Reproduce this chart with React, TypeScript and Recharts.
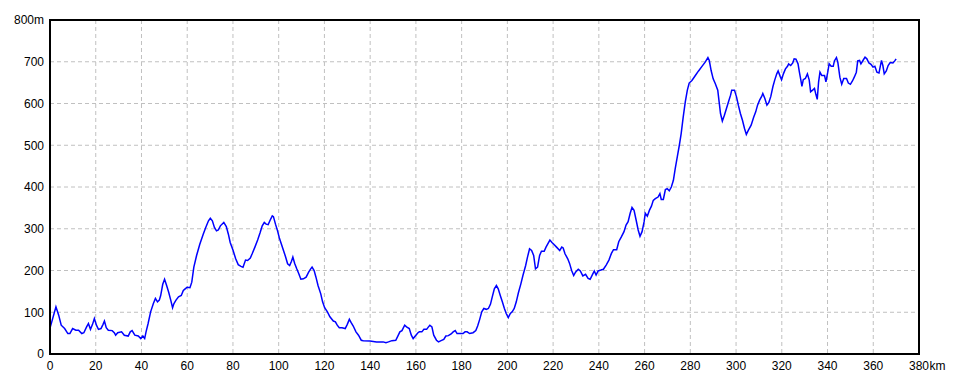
import React from "react";
import { LineChart, Line, XAxis, YAxis, CartesianGrid, ReferenceArea } from "recharts";

const distanceKm: number[] = [
  0, 2.6, 3.8, 4.9, 6.4, 7.8, 8.7, 9.9, 11.3, 12.5, 13.9, 14.8, 16, 16.8, 17.7, 18.6, 19.4, 20.3, 21.2, 22.3,
  23.2, 23.8, 24.6, 25.5, 27.2, 28.1, 28.7, 29.6, 31.3, 32.5, 34.2, 35.1, 35.9, 37.1, 38.6, 39.7, 40.6, 41.4, 42, 42.9,
  44, 45.2, 46.1, 47, 47.8, 48.4, 49.3, 50.1, 51, 51.9, 52.8, 53.6, 54.2, 55.1, 56.2, 57.4, 58.3, 59.1, 60, 61.2,
  62, 62.9, 64.1, 65.5, 67, 68.1, 69.3, 70.1, 71, 71.9, 72.8, 73.6, 74.5, 76, 77.1, 78, 78.8, 80, 81.2, 82.3,
  83.5, 84.4, 85.5, 86.4, 87.6, 88.4, 89.6, 90.8, 91.9, 92.8, 93.7, 94.5, 95.4, 96.3, 97.2, 97.7, 98.6, 99.5, 100.3, 101.2,
  102.1, 103, 103.9, 104.8, 105.6, 106.2, 107, 107.9, 108.8, 109.7, 110.8, 112, 113.1, 114, 114.6, 115.5, 116.3, 117.2, 118.4, 119.2,
  120.1, 121.3, 122.4, 123.9, 124.8, 125.6, 126.5, 127.7, 129.1, 130, 130.9, 131.7, 132.6, 133.8, 134.9, 136.1, 137, 139.9, 142.8, 144,
  145.7, 146.9, 148, 149.5, 151.2, 152.1, 153, 153.9, 155.1, 155.9, 157.1, 158, 158.8, 160, 160.9, 161.5, 162.6, 163.5, 164.7, 165.5,
  166.1, 167, 167.8, 169, 169.9, 171, 172.2, 173.1, 174.2, 175.4, 176.3, 177.2, 178, 180.6, 181.5, 182.4, 183.5, 185, 186.2, 187,
  187.9, 188.8, 189.7, 190.8, 191.7, 192.6, 193.4, 194.3, 195.2, 196, 196.9, 197.8, 198.7, 199.5, 200.4, 201.3, 202.1, 203, 203.9, 204.8,
  205.9, 206.8, 208, 208.8, 209.7, 210.6, 211.5, 212.3, 213.2, 214.1, 214.9, 216.1, 216.9, 217.8, 218.6, 219.5, 220.3, 221.5, 222.9, 223.8,
  224.4, 225.2, 226.4, 227.2, 228.1, 229, 229.8, 231, 231.9, 233, 234.2, 235.3, 236.2, 237.1, 238, 238.8, 239.7, 240.9, 242, 243.2,
  244.4, 245.5, 246.4, 247.8, 248.7, 249.9, 251, 251.9, 252.8, 253.7, 254.5, 255.4, 256.3, 257.2, 258, 258.9, 259.8, 260.3, 261.2, 262.1,
  263, 263.8, 264.7, 265.9, 266.7, 267.3, 268.2, 269.1, 269.9, 270.8, 271.7, 272.6, 273.4, 274.3, 275.2, 276, 276.9, 277.8, 278.7, 279.5,
  280.7, 282.2, 283.6, 285.1, 286.5, 287.7, 288.3, 289.1, 290, 290.9, 292, 292.6, 293.2, 294, 294.9, 295.8, 296.7, 297.6, 298.1, 299.3,
  300.2, 301, 301.9, 302.8, 303.7, 304.5, 305.4, 306.6, 307.7, 308.6, 309.4, 310.3, 311.2, 311.7, 312.6, 313.5, 314.3, 315.2, 316.1, 316.9,
  317.8, 318.4, 319.3, 319.9, 320.7, 321.6, 322.5, 323, 323.9, 324.8, 325.4, 326.2, 327.1, 327.7, 328.3, 328.8, 329.4, 330.3, 331.2, 332,
  332.6, 333.5, 334.3, 334.9, 335.5, 336.1, 336.7, 337.5, 338.7, 339.3, 340.1, 340.7, 341.6, 342.5, 343, 343.9, 344.5, 345.4, 346.2, 347.1,
  348.3, 349.1, 350, 350.9, 351.7, 352.6, 353.2, 354, 354.6, 355.5, 356.4, 357.2, 358.1, 359, 359.9, 360.7, 361.6, 362.5, 363, 363.6,
  364.2, 364.8, 365.7, 366.5, 367.4, 368.6, 369.4, 370,
];

const elevationM: number[] = [
  62, 113, 93, 69, 61, 49, 49, 61, 57, 57, 49, 51, 65, 73, 59, 71, 85, 69, 59, 61,
  71, 79, 63, 57, 56, 51, 45, 51, 53, 45, 43, 53, 56, 45, 43, 37, 43, 37, 53, 73,
  101, 121, 133, 125, 129, 140, 167, 179, 164, 148, 129, 111, 121, 129, 137, 140, 152, 156, 160, 159,
  172, 208, 236, 263, 287, 303, 319, 325, 319, 303, 295, 297, 307, 315, 305, 287, 267, 249, 228, 214,
  210, 208, 225, 224, 230, 240, 256, 273, 291, 307, 315, 311, 310, 321, 331, 329, 311, 295, 278, 263,
  248, 233, 216, 212, 222, 232, 217, 204, 192, 179, 180, 184, 196, 204, 208, 200, 184, 164, 144, 125,
  111, 101, 89, 79, 77, 69, 63, 63, 61, 71, 83, 75, 67, 53, 45, 33, 32, 31, 29, 29,
  29, 27, 29, 32, 33, 43, 53, 56, 69, 65, 61, 45, 37, 45, 51, 53, 53, 59, 59, 65,
  69, 65, 45, 33, 29, 32, 35, 43, 44, 48, 53, 56, 49, 49, 53, 53, 49, 51, 56, 67,
  83, 101, 109, 107, 109, 119, 137, 156, 164, 156, 140, 125, 109, 97, 87, 97, 101, 109, 125, 146,
  168, 188, 212, 232, 252, 248, 236, 204, 208, 236, 246, 246, 256, 265, 273, 267, 263, 256, 248, 256,
  254, 240, 228, 217, 200, 188, 196, 203, 199, 187, 191, 181, 179, 189, 199, 189, 199, 201, 203, 213,
  225, 241, 250, 250, 269, 281, 293, 309, 317, 337, 351, 344, 321, 297, 282, 293, 317, 337, 330, 344,
  354, 368, 372, 376, 384, 370, 370, 394, 396, 391, 400, 416, 444, 472, 500, 528, 568, 604, 632, 649,
  655, 667, 678, 689, 699, 710, 703, 679, 659, 648, 632, 604, 576, 558, 572, 588, 604, 620, 632, 632,
  616, 596, 576, 560, 540, 526, 536, 548, 567, 580, 596, 608, 617, 624, 612, 596, 602, 617, 640, 656,
  671, 678, 665, 657, 671, 683, 689, 695, 691, 697, 707, 706, 695, 675, 657, 641, 657, 660, 671, 656,
  628, 632, 636, 622, 610, 652, 675, 667, 667, 652, 675, 695, 689, 689, 702, 710, 699, 663, 646, 660,
  660, 649, 646, 654, 663, 675, 702, 703, 695, 703, 711, 707, 697, 694, 687, 689, 675, 673, 687, 703,
  691, 671, 678, 691, 698, 697, 702, 707,
];

const xTicks: number[] = [0, 20, 40, 60, 80, 100, 120, 140, 160, 180, 200, 220, 240, 260, 280, 300, 320, 340, 360, 380];
const yTicks: number[] = [0, 100, 200, 300, 400, 500, 600, 700, 800];
const xUnit = "km";
const yUnit = "m";

const data = distanceKm.map((d, i) => ({ km: d, elev: elevationM[i] }));

const FONT = "'Liberation Sans', Arial, sans-serif";
const FONT_SIZE = 12;

const XTick = (props: any) => {
  const { x, y, payload } = props;
  const v = payload.value;
  const isLast = v === xTicks[xTicks.length - 1];
  return (
    <g>
      <text x={x} y={y} dy="0.71em" textAnchor="middle" fontFamily={FONT} fontSize={FONT_SIZE} fill="#000">
        {String(v)}
      </text>
      {isLast && (
        <text x={x + 10.5} y={y} dy="0.71em" textAnchor="start" fontFamily={FONT} fontSize={FONT_SIZE} fill="#000">
          {xUnit}
        </text>
      )}
    </g>
  );
};

export default function App() {
  return (
    <div style={{ position: "absolute", left: 0, top: 0, width: 960, height: 384, background: "#fff" }}>
      <LineChart
        width={960}
        height={384}
        data={data}
        margin={{ top: 20, right: 41, bottom: 0, left: 0 }}
      >
        <CartesianGrid stroke="#c0c0c0" strokeDasharray="4 3" horizontalValues={yTicks} verticalValues={xTicks} />
        <XAxis
          dataKey="km"
          type="number"
          domain={[0, 380]}
          ticks={xTicks}
          interval={0}
          height={30}
          tickLine={false}
          tickSize={0}
          tickMargin={7}
          axisLine={{ stroke: "#000", strokeWidth: 2 }}
          tick={<XTick />}
        />
        <YAxis
          type="number"
          domain={[0, 800]}
          ticks={yTicks}
          interval={0}
          width={50}
          tickLine={false}
          tickSize={0}
          tickMargin={6}
          axisLine={{ stroke: "#000", strokeWidth: 2 }}
          tick={{ fontFamily: FONT, fontSize: FONT_SIZE, fill: "#000" }}
          tickFormatter={(v: number) => (v === yTicks[yTicks.length - 1] ? `${v}${yUnit}` : String(v))}
        />
        <ReferenceArea x1={0} x2={380} y1={0} y2={800} fill="none" stroke="#000" strokeWidth={2} ifOverflow="visible" />
        <Line
          type="linear"
          dataKey="elev"
          stroke="#0000ff"
          strokeWidth={1.5}
          dot={false}
          isAnimationActive={false}
        />
      </LineChart>
    </div>
  );
}
